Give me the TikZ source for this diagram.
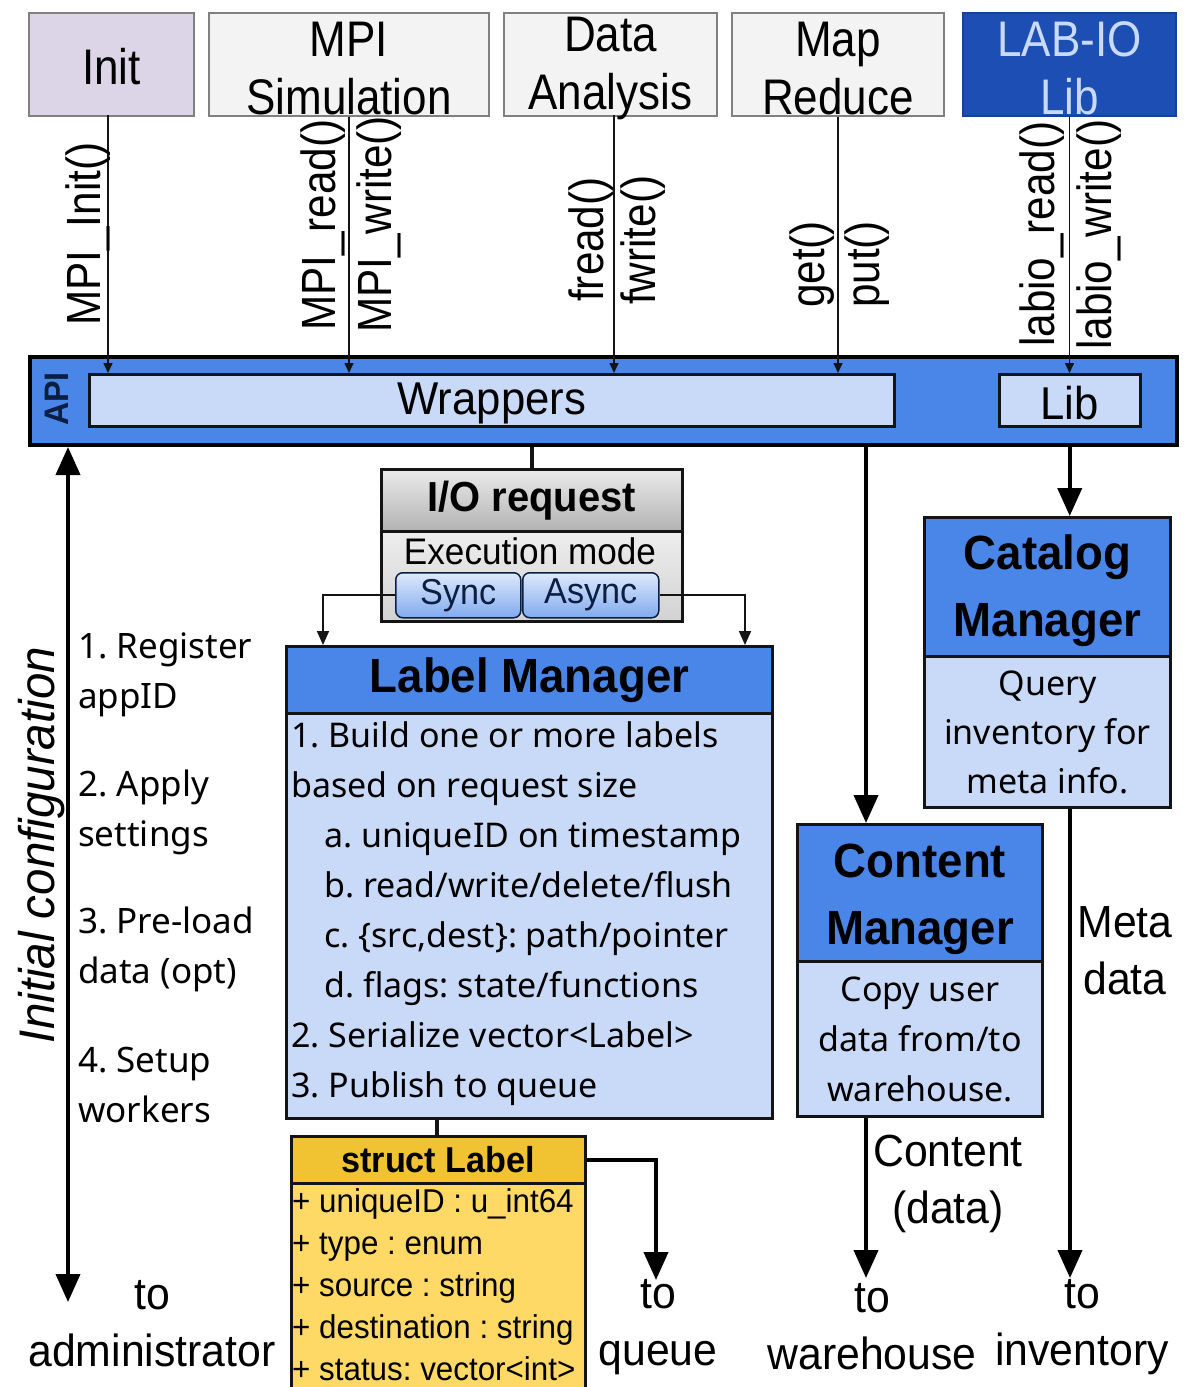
\documentclass[tikz,border=0pt]{standalone}
\usepackage{fontspec}
\setmainfont{Noto Sans}
\newfontfamily\cnd[FakeStretch=0.88]{Liberation Sans}
\newfontfamily\rbt[FakeStretch=0.95]{Liberation Sans}
\usetikzlibrary{arrows.meta,calc}
\frenchspacing

\definecolor{initfill}{HTML}{DCD5E8}
\definecolor{appfill}{HTML}{F3F3F3}
\definecolor{appline}{HTML}{808080}
\definecolor{labiofill}{HTML}{1D4EB4}
\definecolor{labioline}{HTML}{17409A}
\definecolor{apiblue}{HTML}{4A86E8}
\definecolor{paleblue}{HTML}{C9DAF8}
\definecolor{inkline}{HTML}{141414}
\definecolor{navyink}{HTML}{0B1F44}
\definecolor{goldhead}{HTML}{F1C232}
\definecolor{goldbody}{HTML}{FFD966}
\definecolor{grayhead}{HTML}{D2D2D2}
\definecolor{graybody}{HTML}{E6E6E6}

\begin{document}
\begin{tikzpicture}[x=1pt,y=-1pt,
  appbox/.style={draw=appline, line width=2pt, fill=appfill, inner sep=0pt,
    anchor=north west, minimum height=103pt},
  apptext/.style={align=center, inner sep=0pt,
    font=\cnd\fontsize{50}{58}\selectfont},
  fnlbl/.style={rotate=90, anchor=west, inner sep=0pt,
    font=\cnd\fontsize{48}{48}\selectfont},
  hdrbox/.style={draw=inkline, line width=3pt, fill=apiblue, inner sep=0pt,
    anchor=north west, align=center},
  bodybox/.style={draw=inkline, line width=3pt, fill=paleblue, inner sep=0pt,
    anchor=north west, align=center},
  thinarrow/.style={line width=1.6pt, draw=inkline,
    -{Triangle[length=10pt,width=9pt]}},
  midarrow/.style={line width=1.8pt, draw=inkline,
    -{Triangle[length=14pt,width=12pt]}},
  thickarrow/.style={line width=4pt, draw=black,
    -{Triangle[length=28pt,width=24pt]}},
  plainlink/.style={line width=3.5pt, draw=inkline},
  steptext/.style={anchor=west, align=left, inner sep=0pt,
    font=\fontsize{35}{50}\selectfont},
  endtext/.style={align=center, inner sep=0pt,
    font=\rbt\fontsize{45}{57}\selectfont},
  mgrtitle/.style={align=center, inner sep=0pt,
    font=\rbt\bfseries\fontsize{48}{67}\selectfont},
  modebtn/.style={draw=navyink, line width=1.5pt, rounded corners=7pt,
    top color=paleblue!60, bottom color=apiblue!70, inner sep=0pt,
    anchor=north west, minimum height=45pt, text=navyink,
    font=\rbt\fontsize{36}{36}\selectfont}
]
\useasboundingbox (0,0) rectangle (1194,1387);
\fill[white] (0,0) rectangle (1194,1387);

% ---------- applications on top ----------
\node[appbox, fill=initfill, minimum width=165pt] (init) at (28,12) {};
\node[appbox, minimum width=280pt] (mpisim) at (208,12) {};
\node[appbox, minimum width=213pt] (dataan) at (503,12) {};
\node[appbox, minimum width=212pt] (mapred) at (731,12) {};
\node[appbox, fill=labiofill, draw=labioline, minimum width=213pt] (labio) at (962,12) {};
\node[apptext] (initT) at ($(init.center)+(0,2)$) {Init};
\node[apptext] (mpisimT) at ($(mpisim.center)+(0,4)$) {MPI\\Simulation};
\node[apptext] (dataanT) at ($(dataan.center)+(0,4)$) {Data\\Analysis};
\node[apptext] (mapredT) at ($(mapred.center)+(0,4)$) {Map\\Reduce};
\node[apptext, text=paleblue] (labioT) at ($(labio.center)+(0,4)$) {LAB-IO\\Lib};

% ---------- API bar ----------
\node[draw=black, line width=4pt, fill=apiblue, minimum width=1147pt,
  minimum height=88pt, anchor=north west, inner sep=0pt] (api) at (28,355) {};
\node[rotate=90, inner sep=0pt, text=navyink,
  font=\rbt\bfseries\fontsize{34}{34}\selectfont] (apilbl) at (57,399) {API};
\node[bodybox, line width=2.5pt, minimum width=805pt, minimum height=52pt] (wrap) at (88,373) {};
\node[bodybox, line width=2.5pt, minimum width=141pt, minimum height=52pt] (lib) at (998,373) {};
\node[inner sep=0pt, font=\rbt\fontsize{46}{46}\selectfont] (wrapT) at ($(wrap.center)+(0,3)$) {Wrappers};
\node[inner sep=0pt, font=\rbt\fontsize{46}{46}\selectfont] (libT) at ($(lib.center)+(0,3)$) {Lib};

% ---------- calls into the API ----------
\coordinate (initcall) at (108,115);
\coordinate (dacall) at (614,115);
\draw[thinarrow] (initcall) -- (initcall |- wrap.north);
\draw[thinarrow] (mpisim.south) -- (mpisim.south |- wrap.north);
\draw[thinarrow] (dacall) -- (dacall |- wrap.north);
\draw[thinarrow] (mapred.south) -- (mapred.south |- wrap.north);
\draw[thinarrow] (labio.south) -- (labio.south |- lib.north);

\node[fnlbl] (fInit) at (88,326) {MPI\_Init()};
\node[fnlbl] (fMr) at (323,331) {MPI\_read()};
\node[fnlbl] (fMw) at (379,333) {MPI\_write()};
\node[fnlbl] (fFr) at (591,302) {fread()};
\node[fnlbl] (fFw) at (643,305) {fwrite()};
\node[fnlbl] (fGet) at (812,308) {get()};
\node[fnlbl] (fPut) at (867,308) {put()};
\node[fnlbl] (fLr) at (1042,347) {labio\_read()};
\node[fnlbl] (fLw) at (1099,350) {labio\_write()};

% ---------- I/O request ----------
\node[draw=inkline, line width=2.5pt, top color=white!92!black,
  bottom color=grayhead!85!black, minimum width=301pt, minimum height=62pt,
  anchor=north west, inner sep=0pt,
  font=\rbt\bfseries\fontsize{42}{42}\selectfont] (iohead) at (380,468) {I/O request};
\node[draw=inkline, line width=2.5pt, top color=graybody!70!white,
  bottom color=grayhead, minimum width=301pt, minimum height=90pt,
  anchor=north west, inner sep=0pt] (iobody) at (380,530) {};
\node[inner sep=0pt, font=\rbt\fontsize{37}{37}\selectfont] (execmode) at (530,551) {Execution mode};
\node[modebtn, minimum width=125pt] (sync) at (395,572) {Sync};
\node[modebtn, minimum width=136pt] (async) at (522,572) {Async};
\draw[plainlink] (api.south -| iohead.north) -- (iohead.north);

% ---------- Label Manager ----------
\node[hdrbox, minimum width=486pt, minimum height=67pt,
  font=\rbt\bfseries\fontsize{48}{48}\selectfont] (lmhead) at (285,645) {Label Manager};
\node[bodybox, minimum width=486pt, minimum height=405pt] (lmbody) at (285,712) {};
\node[anchor=north west, align=left, inner sep=0pt,
  font=\fontsize{34}{50}\selectfont] (lmtext) at (291,721) {%
1. Build one or more labels\\
based on request size\\
\hspace*{33pt}a. uniqueID on timestamp\\
\hspace*{33pt}b. read/write/delete/flush\\
\hspace*{33pt}c. \{src,dest\}: path/pointer\\
\hspace*{33pt}d. flags: state/functions\\
2. Serialize vector<Label>\\
3. Publish to queue};

\coordinate (lmL) at (323,645);
\coordinate (lmR) at (745,645);
\draw[midarrow] (sync.west) -| (lmL);
\draw[midarrow] (async.east) -| (lmR);

% ---------- struct Label ----------
\node[draw=inkline, line width=2.5pt, fill=goldbody, minimum width=294pt,
  minimum height=215pt, anchor=north west, inner sep=0pt] (slbody) at (290,1182) {};
\node[draw=inkline, line width=2.5pt, fill=goldhead, minimum width=294pt,
  minimum height=47pt, anchor=north west, inner sep=0pt,
  font=\rbt\bfseries\fontsize{36}{36}\selectfont] (slhead) at (290,1135) {struct Label};
\node[anchor=north west, align=left, inner sep=0pt,
  font=\rbt\fontsize{33}{42}\selectfont] (sltext) at (292,1188) {%
+ uniqueID : u\_int64\\
+ type : enum\\
+ source : string\\
+ destination : string\\
+ status: vector<int>};
\coordinate (lmtail) at (437,1117);
\draw[plainlink] (lmtail) -- (lmtail |- slhead.north);

\coordinate (queueend) at (656,1280);
\draw[thickarrow] (slhead.east) -| (queueend);
\node[endtext] (toqueue) at (658,1327) {to\\queue};

% ---------- Catalog Manager ----------
\node[hdrbox, minimum width=246pt, minimum height=139pt] (cathead) at (923,516) {};
\node[mgrtitle] (catT) at ($(cathead.center)+(0,4)$) {Catalog\\Manager};
\node[bodybox, minimum width=246pt, minimum height=151pt,
  font=\fontsize{34}{49}\selectfont] (catbody) at (923,655) {Query\\inventory for\\meta info.};

% ---------- Content Manager ----------
\node[hdrbox, minimum width=245pt, minimum height=137pt] (conthead) at (796,823) {};
\node[mgrtitle] (contT) at ($(conthead.center)+(0,6)$) {Content\\Manager};
\node[bodybox, minimum width=245pt, minimum height=155pt,
  font=\fontsize{34}{50}\selectfont] (contbody) at (796,960) {Copy user\\data from/to\\warehouse.};

% ---------- flows out of the API ----------
\coordinate (contin) at (866,823);
\draw[thickarrow] (api.south -| contin) -- (contin);
\draw[thickarrow] (api.south -| lib.south) -- (cathead.north -| lib.south);

\coordinate (whend) at (866,1278);
\draw[thickarrow] (contbody.south -| whend) -- (whend);
\node[endtext] (contlbl) at (948,1184) {Content\\(data)};
\node[endtext] (towh) at (872,1327) {to\\warehouse};

\coordinate (invend) at (1070,1278);
\draw[thickarrow] (catbody.south -| invend) -- (invend);
\node[endtext] (metalbl) at (1125,951) {Meta\\data};
\node[endtext] (toinv) at (1082,1327) {to\\inventory};

% ---------- administrator link ----------
\coordinate (admend) at (68,1302);
\draw[line width=4pt, draw=black,
  {Triangle[length=28pt,width=24pt]}-{Triangle[length=28pt,width=24pt]}]
  (api.south -| admend) -- (admend);
\node[rotate=90, inner sep=0pt,
  font=\rbt\itshape\fontsize{50}{50}\selectfont] (initcfg) at (42,845) {Initial configuration};
\node[steptext] (st1) at (78,675) {1. Register\\appID};
\node[steptext] (st2) at (78,812) {2. Apply\\settings};
\node[steptext] (st3) at (78,949) {3. Pre-load\\data (opt)};
\node[steptext] (st4) at (78,1085) {4. Setup\\workers};
\node[endtext] (toadm) at (152,1324) {to\\administrator};
\end{tikzpicture}
\end{document}
